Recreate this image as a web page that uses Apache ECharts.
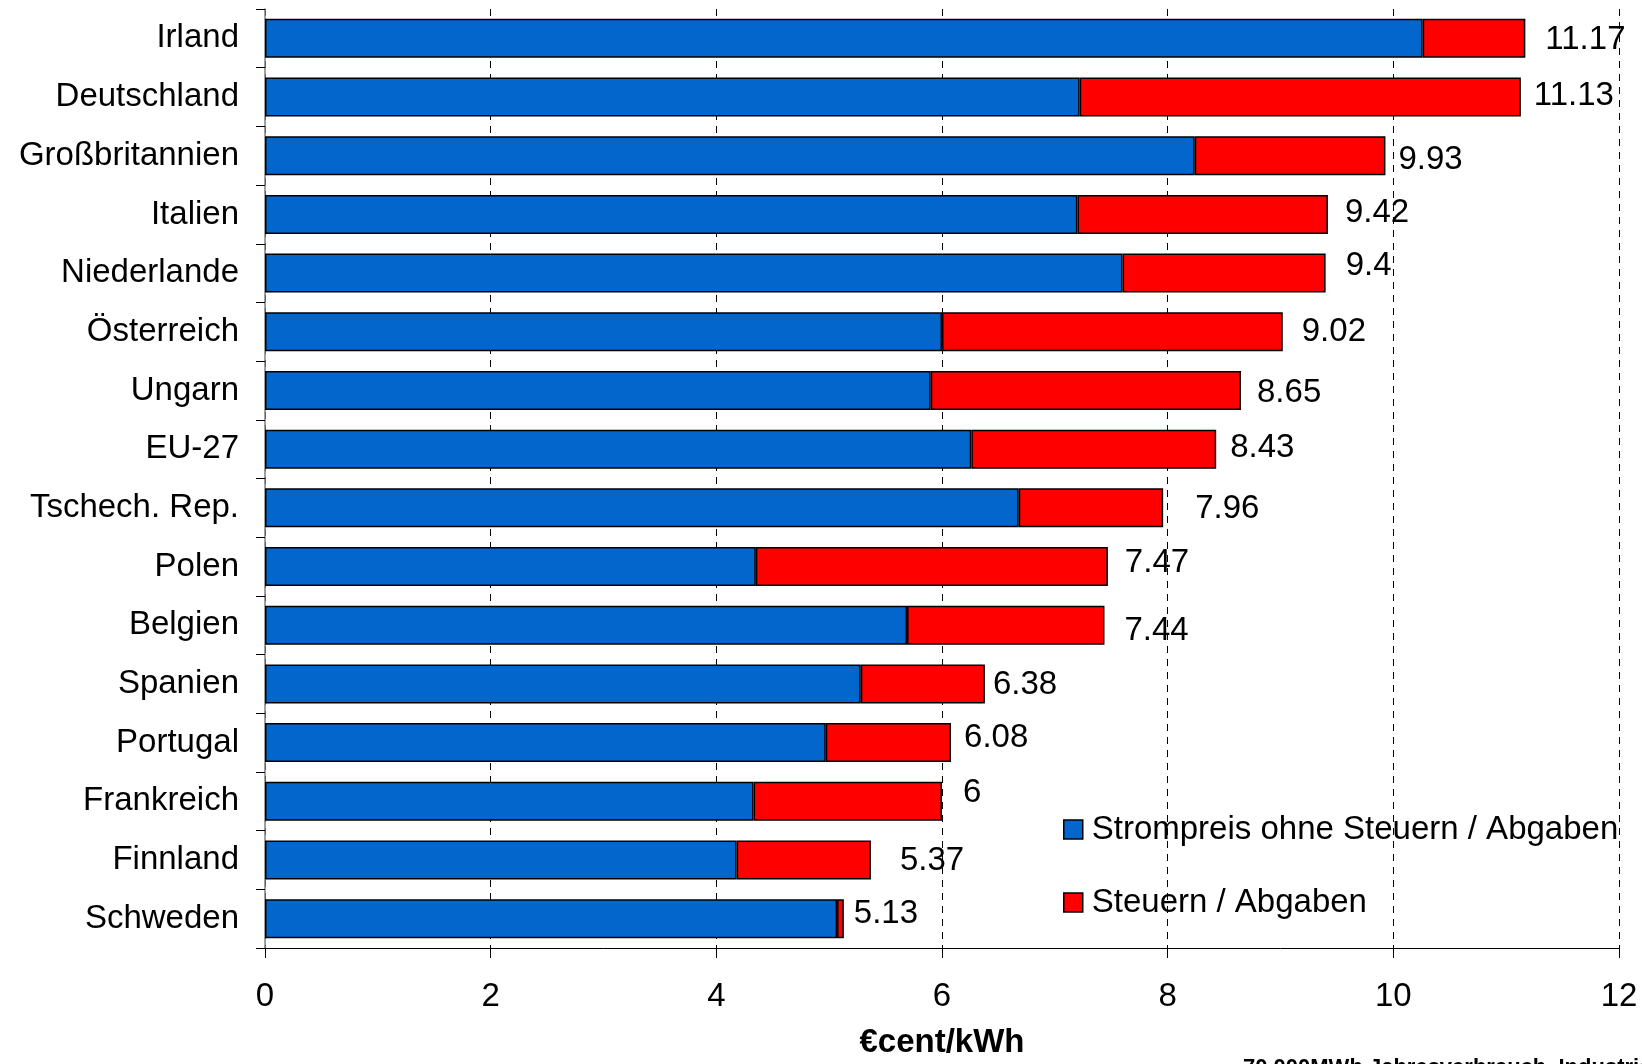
<!DOCTYPE html>
<html>
<head>
<meta charset="utf-8">
<script src="https://cdn.jsdelivr.net/npm/echarts@6/dist/echarts.min.js"></script>
<style>
  html, body { margin: 0; padding: 0; background: #fff; }
  #chart { width: 1642px; height: 1064px; }
</style>
</head>
<body>
<div id="chart"></div>
<script>
// Industriestrompreise 2011 (€cent/kWh), Verbrauch 70.000 MWh/Jahr
const countries = [
  'Irland', 'Deutschland', 'Großbritannien', 'Italien', 'Niederlande',
  'Österreich', 'Ungarn', 'EU-27', 'Tschech. Rep.', 'Polen', 'Belgien',
  'Spanien', 'Portugal', 'Frankreich', 'Finnland', 'Schweden'
];
// Gesamtpreis inkl. Steuern / Abgaben
const totals = [11.17, 11.13, 9.93, 9.42, 9.4, 9.02, 8.65, 8.43, 7.96, 7.47, 7.44, 6.38, 6.08, 6, 5.37, 5.13];
// Strompreis ohne Steuern / Abgaben
const basePrice = [10.26, 7.22, 8.24, 7.20, 7.60, 6.00, 5.90, 6.26, 6.68, 4.35, 5.69, 5.28, 4.97, 4.33, 4.18, 5.07];
// Steuern / Abgaben = Gesamt - Strompreis
const taxes = totals.map((t, i) => +(t - basePrice[i]).toFixed(2));

const tickValues = [0, 2, 4, 6, 8, 10, 12];

// Manual nudges of the value labels [dx, dy]
const labelNudge = [
  [20, 2], [13, -1], [13, 4], [17, -2], [20, -7], [19, 0], [16, 2], [14, -1],
  [32, 1], [17, -4], [20, 6], [8, 1], [13, -5], [21, -8], [29, 1], [10, -5]
];

const FONT = "'Liberation Sans', Arial, sans-serif";
const chart = echarts.init(document.getElementById('chart'));

chart.setOption({
  animation: false,
  backgroundColor: '#ffffff',
  textStyle: { fontFamily: FONT, color: '#000' },
  grid: { left: 265, right: 23, top: 9, bottom: 109, containLabel: false },
  legend: {
    orient: 'vertical',
    left: 1058,
    top: 808,
    itemWidth: 19,
    itemHeight: 19,
    itemGap: 40,
    icon: 'rect',
    data: ['Strompreis ohne Steuern / Abgaben', 'Steuern / Abgaben'],
    textStyle: { fontFamily: FONT, fontSize: 33, color: '#000', lineHeight: 33, padding: [0, 0, 0, 4] },
    itemStyle: { borderColor: '#000', borderWidth: 1.5 }
  },
  xAxis: {
    type: 'value',
    min: tickValues[0],
    max: tickValues[tickValues.length - 1],
    interval: 2,
    name: '€cent/kWh',
    nameLocation: 'middle',
    nameGap: 78,
    nameTextStyle: { fontFamily: FONT, fontSize: 33, fontWeight: 'bold', color: '#000' },
    axisLine: { show: true, lineStyle: { color: '#000', width: 1 } },
    axisTick: { show: true, length: 10, lineStyle: { color: '#000' } },
    axisLabel: { fontFamily: FONT, fontSize: 33, color: '#000', margin: 32 },
    splitLine: { show: true, lineStyle: { color: '#000', width: 1, type: [7, 6] } }
  },
  yAxis: {
    type: 'category',
    inverse: true,
    data: countries,
    axisLine: { show: true, lineStyle: { color: '#808080', width: 1.5 } },
    axisTick: { show: true, length: 9, lineStyle: { color: '#000' } },
    axisLabel: { fontFamily: FONT, fontSize: 33, color: '#000', margin: 26, padding: [5, 0, 0, 0] }
  },
  series: [
    {
      name: 'Strompreis ohne Steuern / Abgaben',
      type: 'bar',
      stack: 'preis',
      barWidth: 39,
      data: basePrice,
      itemStyle: { color: '#0366CC', borderColor: '#000', borderWidth: 1.5 }
    },
    {
      name: 'Steuern / Abgaben',
      type: 'bar',
      stack: 'preis',
      barWidth: 39,
      data: taxes.map((v, i) => ({
        value: v,
        label: { offset: labelNudge[i] }
      })),
      itemStyle: { color: '#FF0000', borderColor: '#000', borderWidth: 1.5 },
      label: {
        show: true,
        position: 'right',
        distance: 0,
        fontFamily: FONT,
        fontSize: 33,
        color: '#000',
        formatter: p => String(totals[p.dataIndex])
      }
    }
  ],
  graphic: [
    {
      type: 'text',
      left: 1243,
      top: 1057,
      style: {
        text: '70.000MWh Jahresverbrauch, Industrie',
        font: "bold 22px 'Liberation Sans', Arial, sans-serif",
        fill: '#000'
      }
    }
  ]
});
</script>
</body>
</html>
